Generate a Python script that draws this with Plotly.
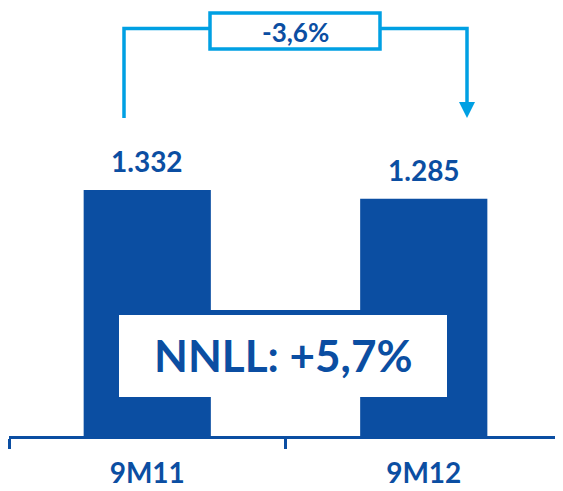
import plotly.graph_objects as go

periods = ["9M11", "9M12"]
values = [1332, 1285]
change_label = "-3,6%"
nnll_label = "NNLL: +5,7%"

DARK = "#0B4EA2"
LIGHT = "#00A0E3"
FONT = "Lato"

# the page body has an 8px margin, so the figure is made smaller and
# all the pixel positions below are window positions minus that offset
OFF = 8
W, H = 563 - OFF, 491 - OFF
L, R, T, B = 9 - OFF, 1, 0, 55
plot_w = W - L - R
plot_h = H - T - B
px_per_unit = 246 / 1332
y_max = plot_h / px_per_unit


def px_x(px):
    # window pixel column -> category-axis coordinate
    return -0.5 + (px - OFF - L) / plot_w * 2


def px_y(py):
    # window pixel row -> value-axis coordinate
    return (OFF + T + plot_h - py) / plot_h * y_max


fig = go.Figure(go.Bar(
    x=periods,
    y=values,
    width=0.46,
    marker_color=DARK,
    marker_line_width=0,
    hoverinfo="skip",
))

# value labels above the bars
for p, v in zip(periods, values):
    fig.add_annotation(
        x=p, y=v, text="<b>%s</b>" % f"{v:,}".replace(",", "."),
        showarrow=False, yanchor="middle", yshift=29,
        font=dict(family=FONT, size=28, color=DARK),
    )

# connector from first bar to second bar
x_left, x_right = px_x(124), px_x(467)
y_low, y_top = px_y(118), px_y(28.5)
fig.add_shape(
    type="path",
    path=f"M {x_left} {y_low} L {x_left} {y_top} L {x_right} {y_top} L {x_right} {px_y(104)}",
    line=dict(color=LIGHT, width=3.5),
)
fig.add_shape(
    type="path",
    path=f"M {px_x(459)} {px_y(102)} L {px_x(475)} {px_y(102)} L {x_right} {px_y(118)} Z",
    fillcolor=LIGHT, line=dict(color=LIGHT, width=0),
)
fig.add_shape(
    type="rect", x0=px_x(210), x1=px_x(380), y0=px_y(49), y1=px_y(13),
    fillcolor="white", line=dict(color=LIGHT, width=3.5),
)
fig.add_annotation(
    x=px_x(295), y=px_y(32), text="<b>%s</b>" % change_label, showarrow=False,
    font=dict(family=FONT, size=26, color=DARK),
)

# NNLL box across the bars
fig.add_shape(
    type="rect", x0=px_x(119), x1=px_x(447), y0=px_y(397), y1=px_y(315),
    fillcolor="white", line_width=0,
)
fig.add_shape(
    type="line", x0=px_x(119), x1=px_x(447), y0=px_y(312.5), y1=px_y(312.5),
    line=dict(color=DARK, width=5),
)
fig.add_annotation(
    x=px_x(283), y=px_y(355), text="<b>%s</b>" % nnll_label, showarrow=False,
    font=dict(family=FONT, size=44, color=DARK),
)

fig.update_xaxes(
    type="category", range=[-0.5, 1.5], automargin=False,
    showline=True, linecolor=DARK, linewidth=3,
    ticks="outside", tickson="boundaries", ticklen=10, tickwidth=3, tickcolor=DARK,
    tickvals=periods, ticktext=["<b>%s</b>" % p for p in periods],
    tickfont=dict(family=FONT, size=28, color=DARK),
    ticklabelstandoff=10,
    showgrid=False, zeroline=False,
)
fig.update_yaxes(range=[0, y_max], visible=False, automargin=False,
                 showgrid=False, zeroline=False)

fig.update_layout(
    width=W, height=H,
    margin=dict(l=L, r=R, t=T, b=B),
    paper_bgcolor="white", plot_bgcolor="white",
    showlegend=False,
    font=dict(family=FONT, color=DARK),
)

fig.write_html("out.html")
